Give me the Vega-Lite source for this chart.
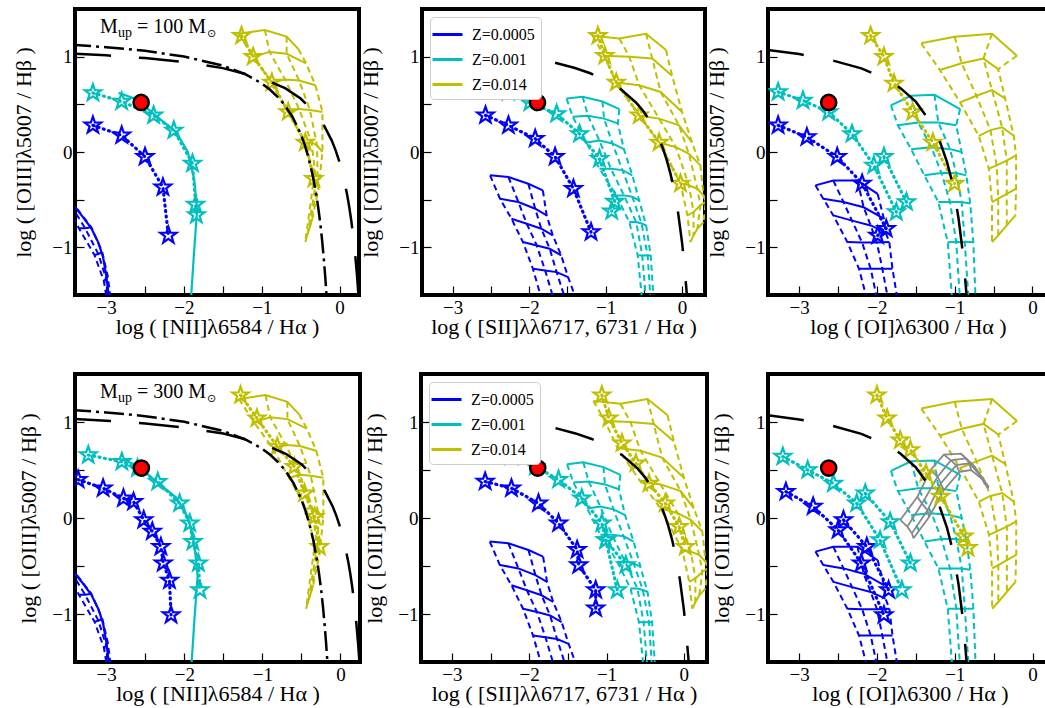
{
  "$schema": "https://vega.github.io/schema/vega-lite/v6.json",
  "background": "white",
  "padding": {"left": 10, "top": -2, "right": 0, "bottom": 0},
  "config": {
    "view": {"stroke": "black", "strokeWidth": 4},
    "axis": {"domain": false, "grid": false, "labelFont": "Liberation Serif", "labelFontSize": 19, "labelColor": "black", "titleFont": "Liberation Serif", "titleFontSize": 22, "titleFontWeight": "normal", "titleColor": "black", "tickColor": "black", "tickWidth": 1.2, "tickSize": -9, "labelPadding": 12, "labelFlush": false, "labelOverlap": false, "labelBound": false, "format": "d", "labelExpr": "datum.value % 1 === 0 ? datum.label : ''"},
    "axisX": {"titlePadding": -1, "values": [-3.4,-3.2,-3,-2.8,-2.6,-2.4,-2.2,-2,-1.8,-1.6,-1.4,-1.2,-1,-0.8,-0.6,-0.4,-0.2,0,0.2], "encode": {"ticks": {"update": {"y2": {"signal": "datum.value % 1 === 0 ? -9 : -5"}}}}},
    "axisY": {"titlePadding": 16, "values": [-1.4,-1.2,-1,-0.8,-0.6,-0.4,-0.2,0,0.2,0.4,0.6,0.8,1,1.2,1.4], "encode": {"ticks": {"update": {"x2": {"signal": "datum.value % 1 === 0 ? 9 : 5"}}}}},
    "point": {"shape": "M0,-1L0.235,-0.324L0.951,-0.309L0.38,0.124L0.588,0.809L0,0.4L-0.588,0.809L-0.38,0.124L-0.951,-0.309L-0.235,-0.324Z"},
    "legend": {"orient": "top-left", "title": null, "offset": 8, "symbolType": "M-1.5,0H1.5", "symbolSize": 400, "symbolStrokeWidth": 3, "labelFont": "Liberation Serif", "labelFontSize": 16, "labelColor": "black", "fillColor": "white", "strokeColor": "#cccccc", "cornerRadius": 4, "padding": 6, "rowPadding": 5, "labelOffset": 13}
  },
  "datasets": {
    "note": [{"r": 1, "s": "= 100 M"}, {"r": 2, "s": "= 300 M"}],
    "grid": [
      {"p":"N2","z":"Z=0.014","i":0,"j":0,"x":-1.30,"y":1.24},{"p":"N2","z":"Z=0.014","i":0,"j":1,"x":-0.96,"y":1.28},{"p":"N2","z":"Z=0.014","i":0,"j":2,"x":-0.68,"y":1.21},{"p":"N2","z":"Z=0.014","i":0,"j":3,"x":-0.53,"y":1.08},
      {"p":"N2","z":"Z=0.014","i":1,"j":0,"x":-1.11,"y":1.00},{"p":"N2","z":"Z=0.014","i":1,"j":1,"x":-0.90,"y":1.05},{"p":"N2","z":"Z=0.014","i":1,"j":2,"x":-0.68,"y":1.03},{"p":"N2","z":"Z=0.014","i":1,"j":3,"x":-0.43,"y":0.93},
      {"p":"N2","z":"Z=0.014","i":2,"j":0,"x":-0.87,"y":0.73},{"p":"N2","z":"Z=0.014","i":2,"j":1,"x":-0.70,"y":0.76},{"p":"N2","z":"Z=0.014","i":2,"j":2,"x":-0.52,"y":0.75},{"p":"N2","z":"Z=0.014","i":2,"j":3,"x":-0.31,"y":0.70},
      {"p":"N2","z":"Z=0.014","i":3,"j":0,"x":-0.66,"y":0.42},{"p":"N2","z":"Z=0.014","i":3,"j":1,"x":-0.52,"y":0.45},{"p":"N2","z":"Z=0.014","i":3,"j":2,"x":-0.38,"y":0.44},{"p":"N2","z":"Z=0.014","i":3,"j":3,"x":-0.22,"y":0.42},
      {"p":"N2","z":"Z=0.014","i":4,"j":0,"x":-0.44,"y":0.10},{"p":"N2","z":"Z=0.014","i":4,"j":1,"x":-0.36,"y":0.10},{"p":"N2","z":"Z=0.014","i":4,"j":2,"x":-0.29,"y":0.07},{"p":"N2","z":"Z=0.014","i":4,"j":3,"x":-0.22,"y":0.00},
      {"p":"N2","z":"Z=0.014","i":5,"j":0,"x":-0.33,"y":-0.28},{"p":"N2","z":"Z=0.014","i":5,"j":1,"x":-0.30,"y":-0.30},{"p":"N2","z":"Z=0.014","i":5,"j":2,"x":-0.28,"y":-0.33},{"p":"N2","z":"Z=0.014","i":5,"j":3,"x":-0.27,"y":-0.385},
      {"p":"N2","z":"Z=0.014","i":6,"j":0,"x":-0.44,"y":-0.945},{"p":"N2","z":"Z=0.014","i":6,"j":1,"x":-0.41,"y":-0.86},{"p":"N2","z":"Z=0.014","i":6,"j":2,"x":-0.38,"y":-0.78},{"p":"N2","z":"Z=0.014","i":6,"j":3,"x":-0.35,"y":-0.70},
      {"p":"N2","z":"Z=0.0005","i":0,"j":0,"x":-3.55,"y":-0.50},{"p":"N2","z":"Z=0.0005","i":0,"j":1,"x":-3.45,"y":-0.56},{"p":"N2","z":"Z=0.0005","i":0,"j":2,"x":-3.37,"y":-0.60},
      {"p":"N2","z":"Z=0.0005","i":1,"j":0,"x":-3.35,"y":-0.80},{"p":"N2","z":"Z=0.0005","i":1,"j":1,"x":-3.27,"y":-0.80},{"p":"N2","z":"Z=0.0005","i":1,"j":2,"x":-3.19,"y":-0.79},
      {"p":"N2","z":"Z=0.0005","i":2,"j":0,"x":-3.15,"y":-1.08},{"p":"N2","z":"Z=0.0005","i":2,"j":1,"x":-3.10,"y":-1.07},{"p":"N2","z":"Z=0.0005","i":2,"j":2,"x":-3.05,"y":-1.05},
      {"p":"N2","z":"Z=0.0005","i":3,"j":0,"x":-3.03,"y":-1.35},{"p":"N2","z":"Z=0.0005","i":3,"j":1,"x":-3.00,"y":-1.33},{"p":"N2","z":"Z=0.0005","i":3,"j":2,"x":-2.98,"y":-1.30},
      {"p":"N2","z":"Z=0.0005","i":4,"j":0,"x":-2.98,"y":-1.60},{"p":"N2","z":"Z=0.0005","i":4,"j":1,"x":-2.96,"y":-1.58},{"p":"N2","z":"Z=0.0005","i":4,"j":2,"x":-2.94,"y":-1.55},
      {"p":"S2","z":"Z=0.0005","i":0,"j":0,"x":-2.51,"y":-0.245},{"p":"S2","z":"Z=0.0005","i":0,"j":1,"x":-2.27,"y":-0.263},{"p":"S2","z":"Z=0.0005","i":0,"j":2,"x":-2.01,"y":-0.333},{"p":"S2","z":"Z=0.0005","i":0,"j":3,"x":-1.82,"y":-0.403},
      {"p":"S2","z":"Z=0.0005","i":1,"j":0,"x":-2.38,"y":-0.49},{"p":"S2","z":"Z=0.0005","i":1,"j":1,"x":-2.14,"y":-0.525},{"p":"S2","z":"Z=0.0005","i":1,"j":2,"x":-1.92,"y":-0.595},{"p":"S2","z":"Z=0.0005","i":1,"j":3,"x":-1.77,"y":-0.665},
      {"p":"S2","z":"Z=0.0005","i":2,"j":0,"x":-2.23,"y":-0.70},{"p":"S2","z":"Z=0.0005","i":2,"j":1,"x":-2.03,"y":-0.753},{"p":"S2","z":"Z=0.0005","i":2,"j":2,"x":-1.84,"y":-0.805},{"p":"S2","z":"Z=0.0005","i":2,"j":3,"x":-1.69,"y":-0.875},
      {"p":"S2","z":"Z=0.0005","i":3,"j":0,"x":-2.08,"y":-0.945},{"p":"S2","z":"Z=0.0005","i":3,"j":1,"x":-1.90,"y":-0.98},{"p":"S2","z":"Z=0.0005","i":3,"j":2,"x":-1.73,"y":-1.015},{"p":"S2","z":"Z=0.0005","i":3,"j":3,"x":-1.58,"y":-1.085},
      {"p":"S2","z":"Z=0.0005","i":4,"j":0,"x":-1.95,"y":-1.225},{"p":"S2","z":"Z=0.0005","i":4,"j":1,"x":-1.79,"y":-1.242},{"p":"S2","z":"Z=0.0005","i":4,"j":2,"x":-1.64,"y":-1.26},{"p":"S2","z":"Z=0.0005","i":4,"j":3,"x":-1.49,"y":-1.312},
      {"p":"S2","z":"Z=0.0005","i":5,"j":0,"x":-1.78,"y":-1.70},{"p":"S2","z":"Z=0.0005","i":5,"j":1,"x":-1.62,"y":-1.70},{"p":"S2","z":"Z=0.0005","i":5,"j":2,"x":-1.48,"y":-1.66},{"p":"S2","z":"Z=0.0005","i":5,"j":3,"x":-1.36,"y":-1.60},
      {"p":"S2","z":"Z=0.001","i":0,"j":0,"x":-1.51,"y":0.56},{"p":"S2","z":"Z=0.001","i":0,"j":1,"x":-1.30,"y":0.58},{"p":"S2","z":"Z=0.001","i":0,"j":2,"x":-1.04,"y":0.53},{"p":"S2","z":"Z=0.001","i":0,"j":3,"x":-0.82,"y":0.45},
      {"p":"S2","z":"Z=0.001","i":1,"j":0,"x":-1.43,"y":0.37},{"p":"S2","z":"Z=0.001","i":1,"j":1,"x":-1.23,"y":0.38},{"p":"S2","z":"Z=0.001","i":1,"j":2,"x":-1.02,"y":0.35},{"p":"S2","z":"Z=0.001","i":1,"j":3,"x":-0.84,"y":0.30},
      {"p":"S2","z":"Z=0.001","i":2,"j":0,"x":-1.25,"y":0.10},{"p":"S2","z":"Z=0.001","i":2,"j":1,"x":-1.08,"y":0.12},{"p":"S2","z":"Z=0.001","i":2,"j":2,"x":-0.91,"y":0.09},{"p":"S2","z":"Z=0.001","i":2,"j":3,"x":-0.76,"y":0.03},
      {"p":"S2","z":"Z=0.001","i":3,"j":0,"x":-1.08,"y":-0.175},{"p":"S2","z":"Z=0.001","i":3,"j":1,"x":-0.93,"y":-0.175},{"p":"S2","z":"Z=0.001","i":3,"j":2,"x":-0.78,"y":-0.19},{"p":"S2","z":"Z=0.001","i":3,"j":3,"x":-0.65,"y":-0.245},
      {"p":"S2","z":"Z=0.001","i":4,"j":0,"x":-0.86,"y":-0.455},{"p":"S2","z":"Z=0.001","i":4,"j":1,"x":-0.76,"y":-0.455},{"p":"S2","z":"Z=0.001","i":4,"j":2,"x":-0.65,"y":-0.47},{"p":"S2","z":"Z=0.001","i":4,"j":3,"x":-0.56,"y":-0.51},
      {"p":"S2","z":"Z=0.001","i":5,"j":0,"x":-0.69,"y":-0.735},{"p":"S2","z":"Z=0.001","i":5,"j":1,"x":-0.60,"y":-0.735},{"p":"S2","z":"Z=0.001","i":5,"j":2,"x":-0.53,"y":-0.75},{"p":"S2","z":"Z=0.001","i":5,"j":3,"x":-0.47,"y":-0.77},
      {"p":"S2","z":"Z=0.001","i":6,"j":0,"x":-0.58,"y":-1.085},{"p":"S2","z":"Z=0.001","i":6,"j":1,"x":-0.52,"y":-1.085},{"p":"S2","z":"Z=0.001","i":6,"j":2,"x":-0.45,"y":-1.085},{"p":"S2","z":"Z=0.001","i":6,"j":3,"x":-0.41,"y":-1.085},
      {"p":"S2","z":"Z=0.001","i":7,"j":0,"x":-0.52,"y":-1.57},{"p":"S2","z":"Z=0.001","i":7,"j":1,"x":-0.47,"y":-1.57},{"p":"S2","z":"Z=0.001","i":7,"j":2,"x":-0.41,"y":-1.57},{"p":"S2","z":"Z=0.001","i":7,"j":3,"x":-0.37,"y":-1.57},
      {"p":"S2","z":"Z=0.014","i":0,"j":0,"x":-1.17,"y":1.22},{"p":"S2","z":"Z=0.014","i":0,"j":1,"x":-0.82,"y":1.19},{"p":"S2","z":"Z=0.014","i":0,"j":2,"x":-0.47,"y":1.24},{"p":"S2","z":"Z=0.014","i":0,"j":3,"x":-0.21,"y":1.07},
      {"p":"S2","z":"Z=0.014","i":1,"j":0,"x":-1.02,"y":1.01},{"p":"S2","z":"Z=0.014","i":1,"j":1,"x":-0.69,"y":1.00},{"p":"S2","z":"Z=0.014","i":1,"j":2,"x":-0.39,"y":0.98},{"p":"S2","z":"Z=0.014","i":1,"j":3,"x":-0.13,"y":0.80},
      {"p":"S2","z":"Z=0.014","i":2,"j":0,"x":-0.86,"y":0.73},{"p":"S2","z":"Z=0.014","i":2,"j":1,"x":-0.56,"y":0.70},{"p":"S2","z":"Z=0.014","i":2,"j":2,"x":-0.28,"y":0.63},{"p":"S2","z":"Z=0.014","i":2,"j":3,"x":0.00,"y":0.42},
      {"p":"S2","z":"Z=0.014","i":3,"j":0,"x":-0.56,"y":0.38},{"p":"S2","z":"Z=0.014","i":3,"j":1,"x":-0.30,"y":0.35},{"p":"S2","z":"Z=0.014","i":3,"j":2,"x":-0.04,"y":0.28},{"p":"S2","z":"Z=0.014","i":3,"j":3,"x":0.13,"y":0.10},
      {"p":"S2","z":"Z=0.014","i":4,"j":0,"x":-0.30,"y":0.10},{"p":"S2","z":"Z=0.014","i":4,"j":1,"x":-0.08,"y":0.05},{"p":"S2","z":"Z=0.014","i":4,"j":2,"x":0.09,"y":-0.02},{"p":"S2","z":"Z=0.014","i":4,"j":3,"x":0.24,"y":-0.14},
      {"p":"S2","z":"Z=0.014","i":5,"j":0,"x":-0.02,"y":-0.33},{"p":"S2","z":"Z=0.014","i":5,"j":1,"x":0.09,"y":-0.35},{"p":"S2","z":"Z=0.014","i":5,"j":2,"x":0.20,"y":-0.385},{"p":"S2","z":"Z=0.014","i":5,"j":3,"x":0.28,"y":-0.455},
      {"p":"S2","z":"Z=0.014","i":6,"j":0,"x":0.07,"y":-0.665},{"p":"S2","z":"Z=0.014","i":6,"j":1,"x":0.15,"y":-0.63},{"p":"S2","z":"Z=0.014","i":6,"j":2,"x":0.24,"y":-0.56},{"p":"S2","z":"Z=0.014","i":6,"j":3,"x":0.31,"y":-0.525},
      {"p":"S2","z":"Z=0.014","i":7,"j":0,"x":0.11,"y":-0.945},{"p":"S2","z":"Z=0.014","i":7,"j":1,"x":0.15,"y":-0.875},{"p":"S2","z":"Z=0.014","i":7,"j":2,"x":0.20,"y":-0.805},{"p":"S2","z":"Z=0.014","i":7,"j":3,"x":0.28,"y":-0.735},
      {"p":"O1","z":"Z=0.0005","i":0,"j":0,"x":-2.79,"y":-0.35},{"p":"O1","z":"Z=0.0005","i":0,"j":1,"x":-2.56,"y":-0.30},{"p":"O1","z":"Z=0.0005","i":0,"j":2,"x":-2.25,"y":-0.30},{"p":"O1","z":"Z=0.0005","i":0,"j":3,"x":-1.99,"y":-0.44},
      {"p":"O1","z":"Z=0.0005","i":1,"j":0,"x":-2.69,"y":-0.49},{"p":"O1","z":"Z=0.0005","i":1,"j":1,"x":-2.43,"y":-0.525},{"p":"O1","z":"Z=0.0005","i":1,"j":2,"x":-2.17,"y":-0.58},{"p":"O1","z":"Z=0.0005","i":1,"j":3,"x":-1.91,"y":-0.70},
      {"p":"O1","z":"Z=0.0005","i":2,"j":0,"x":-2.56,"y":-0.665},{"p":"O1","z":"Z=0.0005","i":2,"j":1,"x":-2.32,"y":-0.72},{"p":"O1","z":"Z=0.0005","i":2,"j":2,"x":-2.08,"y":-0.77},{"p":"O1","z":"Z=0.0005","i":2,"j":3,"x":-1.89,"y":-0.84},
      {"p":"O1","z":"Z=0.0005","i":3,"j":0,"x":-2.38,"y":-0.945},{"p":"O1","z":"Z=0.0005","i":3,"j":1,"x":-2.19,"y":-0.95},{"p":"O1","z":"Z=0.0005","i":3,"j":2,"x":-2.00,"y":-0.95},{"p":"O1","z":"Z=0.0005","i":3,"j":3,"x":-1.84,"y":-0.945},
      {"p":"O1","z":"Z=0.0005","i":4,"j":0,"x":-2.23,"y":-1.225},{"p":"O1","z":"Z=0.0005","i":4,"j":1,"x":-2.08,"y":-1.225},{"p":"O1","z":"Z=0.0005","i":4,"j":2,"x":-1.93,"y":-1.225},{"p":"O1","z":"Z=0.0005","i":4,"j":3,"x":-1.80,"y":-1.225},
      {"p":"O1","z":"Z=0.0005","i":5,"j":0,"x":-2.12,"y":-1.57},{"p":"O1","z":"Z=0.0005","i":5,"j":1,"x":-1.99,"y":-1.57},{"p":"O1","z":"Z=0.0005","i":5,"j":2,"x":-1.85,"y":-1.57},{"p":"O1","z":"Z=0.0005","i":5,"j":3,"x":-1.73,"y":-1.57},
      {"p":"O1","z":"Z=0.001","i":0,"j":0,"x":-1.82,"y":0.49},{"p":"O1","z":"Z=0.001","i":0,"j":1,"x":-1.56,"y":0.59},{"p":"O1","z":"Z=0.001","i":0,"j":2,"x":-1.26,"y":0.60},{"p":"O1","z":"Z=0.001","i":0,"j":3,"x":-0.93,"y":0.45},
      {"p":"O1","z":"Z=0.001","i":1,"j":0,"x":-1.73,"y":0.28},{"p":"O1","z":"Z=0.001","i":1,"j":1,"x":-1.47,"y":0.31},{"p":"O1","z":"Z=0.001","i":1,"j":2,"x":-1.21,"y":0.31},{"p":"O1","z":"Z=0.001","i":1,"j":3,"x":-0.98,"y":0.28},
      {"p":"O1","z":"Z=0.001","i":2,"j":0,"x":-1.56,"y":0.03},{"p":"O1","z":"Z=0.001","i":2,"j":1,"x":-1.30,"y":0.05},{"p":"O1","z":"Z=0.001","i":2,"j":2,"x":-1.06,"y":0.03},{"p":"O1","z":"Z=0.001","i":2,"j":3,"x":-0.91,"y":0.00},
      {"p":"O1","z":"Z=0.001","i":3,"j":0,"x":-1.39,"y":-0.245},{"p":"O1","z":"Z=0.001","i":3,"j":1,"x":-1.17,"y":-0.22},{"p":"O1","z":"Z=0.001","i":3,"j":2,"x":-0.98,"y":-0.22},{"p":"O1","z":"Z=0.001","i":3,"j":3,"x":-0.85,"y":-0.245},
      {"p":"O1","z":"Z=0.001","i":4,"j":0,"x":-1.21,"y":-0.525},{"p":"O1","z":"Z=0.001","i":4,"j":1,"x":-1.06,"y":-0.525},{"p":"O1","z":"Z=0.001","i":4,"j":2,"x":-0.91,"y":-0.525},{"p":"O1","z":"Z=0.001","i":4,"j":3,"x":-0.80,"y":-0.54},
      {"p":"O1","z":"Z=0.001","i":5,"j":0,"x":-1.09,"y":-0.945},{"p":"O1","z":"Z=0.001","i":5,"j":1,"x":-0.98,"y":-0.945},{"p":"O1","z":"Z=0.001","i":5,"j":2,"x":-0.87,"y":-0.945},{"p":"O1","z":"Z=0.001","i":5,"j":3,"x":-0.76,"y":-0.945},
      {"p":"O1","z":"Z=0.001","i":6,"j":0,"x":-1.03,"y":-1.57},{"p":"O1","z":"Z=0.001","i":6,"j":1,"x":-0.93,"y":-1.57},{"p":"O1","z":"Z=0.001","i":6,"j":2,"x":-0.82,"y":-1.57},{"p":"O1","z":"Z=0.001","i":6,"j":3,"x":-0.73,"y":-1.57},
      {"p":"O1","z":"Z=0.014","i":0,"j":0,"x":-1.43,"y":1.14},{"p":"O1","z":"Z=0.014","i":0,"j":1,"x":-1.00,"y":1.21},{"p":"O1","z":"Z=0.014","i":0,"j":2,"x":-0.52,"y":1.24},{"p":"O1","z":"Z=0.014","i":0,"j":3,"x":-0.20,"y":1.01},
      {"p":"O1","z":"Z=0.014","i":1,"j":0,"x":-1.19,"y":0.86},{"p":"O1","z":"Z=0.014","i":1,"j":1,"x":-0.91,"y":0.93},{"p":"O1","z":"Z=0.014","i":1,"j":2,"x":-0.63,"y":0.98},{"p":"O1","z":"Z=0.014","i":1,"j":3,"x":-0.44,"y":0.87},
      {"p":"O1","z":"Z=0.014","i":2,"j":0,"x":-0.93,"y":0.52},{"p":"O1","z":"Z=0.014","i":2,"j":1,"x":-0.72,"y":0.59},{"p":"O1","z":"Z=0.014","i":2,"j":2,"x":-0.52,"y":0.65},{"p":"O1","z":"Z=0.014","i":2,"j":3,"x":-0.35,"y":0.56},
      {"p":"O1","z":"Z=0.014","i":3,"j":0,"x":-0.69,"y":0.17},{"p":"O1","z":"Z=0.014","i":3,"j":1,"x":-0.54,"y":0.23},{"p":"O1","z":"Z=0.014","i":3,"j":2,"x":-0.39,"y":0.26},{"p":"O1","z":"Z=0.014","i":3,"j":3,"x":-0.24,"y":0.17},
      {"p":"O1","z":"Z=0.014","i":4,"j":0,"x":-0.56,"y":-0.175},{"p":"O1","z":"Z=0.014","i":4,"j":1,"x":-0.46,"y":-0.14},{"p":"O1","z":"Z=0.014","i":4,"j":2,"x":-0.33,"y":-0.09},{"p":"O1","z":"Z=0.014","i":4,"j":3,"x":-0.21,"y":-0.035},
      {"p":"O1","z":"Z=0.014","i":5,"j":0,"x":-0.52,"y":-0.525},{"p":"O1","z":"Z=0.014","i":5,"j":1,"x":-0.44,"y":-0.49},{"p":"O1","z":"Z=0.014","i":5,"j":2,"x":-0.33,"y":-0.44},{"p":"O1","z":"Z=0.014","i":5,"j":3,"x":-0.21,"y":-0.385},
      {"p":"O1","z":"Z=0.014","i":6,"j":0,"x":-0.52,"y":-0.945},{"p":"O1","z":"Z=0.014","i":6,"j":1,"x":-0.44,"y":-0.875},{"p":"O1","z":"Z=0.014","i":6,"j":2,"x":-0.33,"y":-0.77},{"p":"O1","z":"Z=0.014","i":6,"j":3,"x":-0.22,"y":-0.665}
    ],
    "gray": [
      {"i":0,"j":0,"x":-1.70,"y":-0.02},{"i":0,"j":1,"x":-1.61,"y":-0.09},{"i":0,"j":2,"x":-1.55,"y":-0.16},{"i":0,"j":3,"x":-1.53,"y":-0.21},
      {"i":1,"j":0,"x":-1.48,"y":0.22},{"i":1,"j":1,"x":-1.42,"y":0.15},{"i":1,"j":2,"x":-1.35,"y":0.08},{"i":1,"j":3,"x":-1.33,"y":0.01},
      {"i":2,"j":0,"x":-1.31,"y":0.50},{"i":2,"j":1,"x":-1.22,"y":0.43},{"i":2,"j":2,"x":-1.18,"y":0.36},{"i":2,"j":3,"x":-1.14,"y":0.29},
      {"i":3,"j":0,"x":-1.14,"y":0.66},{"i":3,"j":1,"x":-1.05,"y":0.60},{"i":3,"j":2,"x":-0.98,"y":0.55},{"i":3,"j":3,"x":-0.94,"y":0.48},
      {"i":4,"j":0,"x":-0.92,"y":0.67},{"i":4,"j":1,"x":-0.855,"y":0.62},{"i":4,"j":2,"x":-0.81,"y":0.57},{"i":4,"j":3,"x":-0.79,"y":0.50},
      {"i":5,"j":0,"x":-0.75,"y":0.54},{"i":5,"j":1,"x":-0.70,"y":0.48},{"i":5,"j":2,"x":-0.66,"y":0.43},{"i":5,"j":3,"x":-0.64,"y":0.40},
      {"i":6,"j":0,"x":-0.57,"y":0.31},{"i":6,"j":1,"x":-0.57,"y":0.33},{"i":6,"j":2,"x":-0.595,"y":0.34},{"i":6,"j":3,"x":-0.62,"y":0.36}
    ],
    "curve": [
      {"p":"N2","z":"Z=0.001","c":0,"k":0,"x":-2.84,"y":0.62},{"p":"N2","z":"Z=0.001","c":0,"k":1,"x":-2.60,"y":0.55},{"p":"N2","z":"Z=0.001","c":0,"k":2,"x":-2.39,"y":0.40},{"p":"N2","z":"Z=0.001","c":0,"k":3,"x":-2.10,"y":0.21},{"p":"N2","z":"Z=0.001","c":0,"k":4,"x":-1.95,"y":0.0},{"p":"N2","z":"Z=0.001","c":0,"k":5,"x":-1.87,"y":-0.28},{"p":"N2","z":"Z=0.001","c":0,"k":6,"x":-1.83,"y":-0.60},{"p":"N2","z":"Z=0.001","c":0,"k":7,"x":-1.87,"y":-1.05},{"p":"N2","z":"Z=0.001","c":0,"k":8,"x":-1.91,"y":-1.55},
      {"p":"N2","z":"Z=0.0005","c":1,"k":0,"x":-3.40,"y":-0.58},{"p":"N2","z":"Z=0.0005","c":1,"k":1,"x":-3.30,"y":-0.68},{"p":"N2","z":"Z=0.0005","c":1,"k":2,"x":-3.19,"y":-0.80},{"p":"N2","z":"Z=0.0005","c":1,"k":3,"x":-3.10,"y":-0.95},{"p":"N2","z":"Z=0.0005","c":1,"k":4,"x":-3.04,"y":-1.10},{"p":"N2","z":"Z=0.0005","c":1,"k":5,"x":-3.00,"y":-1.29},{"p":"N2","z":"Z=0.0005","c":1,"k":6,"x":-2.96,"y":-1.55}
    ],
    "track": [
      {"r":1,"p":"N2","z":"Z=0.0005","t":"a","k":0,"x":-3.17,"y":0.28},{"r":1,"p":"N2","z":"Z=0.0005","t":"a","k":1,"x":-2.80,"y":0.175},{"r":1,"p":"N2","z":"Z=0.0005","t":"a","k":2,"x":-2.50,"y":-0.05},{"r":1,"p":"N2","z":"Z=0.0005","t":"a","k":3,"x":-2.27,"y":-0.37},{"r":1,"p":"N2","z":"Z=0.0005","t":"a","k":4,"x":-2.20,"y":-0.875},
      {"r":1,"p":"N2","z":"Z=0.001","t":"a","k":0,"x":-3.17,"y":0.62},{"r":1,"p":"N2","z":"Z=0.001","t":"a","k":1,"x":-2.80,"y":0.53},{"r":1,"p":"N2","z":"Z=0.001","t":"a","k":2,"x":-2.39,"y":0.385},{"r":1,"p":"N2","z":"Z=0.001","t":"a","k":3,"x":-2.13,"y":0.227},{"r":1,"p":"N2","z":"Z=0.001","t":"a","k":4,"x":-1.89,"y":-0.12},{"r":1,"p":"N2","z":"Z=0.001","t":"a","k":5,"x":-1.85,"y":-0.55},{"r":1,"p":"N2","z":"Z=0.001","t":"a","k":6,"x":-1.84,"y":-0.66},
      {"r":1,"p":"N2","z":"Z=0.014","t":"a","k":0,"x":-1.26,"y":1.22},{"r":1,"p":"N2","z":"Z=0.014","t":"a","k":1,"x":-1.11,"y":1.0},{"r":1,"p":"N2","z":"Z=0.014","t":"a","k":2,"x":-0.87,"y":0.73},{"r":1,"p":"N2","z":"Z=0.014","t":"a","k":3,"x":-0.66,"y":0.42},{"r":1,"p":"N2","z":"Z=0.014","t":"a","k":4,"x":-0.44,"y":0.10},{"r":1,"p":"N2","z":"Z=0.014","t":"a","k":5,"x":-0.33,"y":-0.28},
      {"r":1,"p":"S2","z":"Z=0.0005","t":"a","k":0,"x":-2.57,"y":0.385},{"r":1,"p":"S2","z":"Z=0.0005","t":"a","k":1,"x":-2.27,"y":0.28},{"r":1,"p":"S2","z":"Z=0.0005","t":"a","k":2,"x":-1.92,"y":0.14},{"r":1,"p":"S2","z":"Z=0.0005","t":"a","k":3,"x":-1.66,"y":-0.05},{"r":1,"p":"S2","z":"Z=0.0005","t":"a","k":4,"x":-1.42,"y":-0.385},{"r":1,"p":"S2","z":"Z=0.0005","t":"a","k":5,"x":-1.19,"y":-0.84},
      {"r":1,"p":"S2","z":"Z=0.001","t":"a","k":0,"x":-2.27,"y":0.63},{"r":1,"p":"S2","z":"Z=0.001","t":"a","k":1,"x":-1.99,"y":0.52},{"r":1,"p":"S2","z":"Z=0.001","t":"a","k":2,"x":-1.64,"y":0.40},{"r":1,"p":"S2","z":"Z=0.001","t":"a","k":3,"x":-1.34,"y":0.19},{"r":1,"p":"S2","z":"Z=0.001","t":"a","k":4,"x":-1.08,"y":-0.07},{"r":1,"p":"S2","z":"Z=0.001","t":"a","k":5,"x":-0.88,"y":-0.52},{"r":1,"p":"S2","z":"Z=0.001","t":"a","k":6,"x":-0.92,"y":-0.62},
      {"r":1,"p":"S2","z":"Z=0.014","t":"a","k":0,"x":-1.10,"y":1.22},{"r":1,"p":"S2","z":"Z=0.014","t":"a","k":1,"x":-1.01,"y":1.01},{"r":1,"p":"S2","z":"Z=0.014","t":"a","k":2,"x":-0.86,"y":0.73},{"r":1,"p":"S2","z":"Z=0.014","t":"a","k":3,"x":-0.56,"y":0.385},{"r":1,"p":"S2","z":"Z=0.014","t":"a","k":4,"x":-0.30,"y":0.10},{"r":1,"p":"S2","z":"Z=0.014","t":"a","k":5,"x":-0.02,"y":-0.33},
      {"r":1,"p":"O1","z":"Z=0.0005","t":"a","k":0,"x":-3.27,"y":0.28},{"r":1,"p":"O1","z":"Z=0.0005","t":"a","k":1,"x":-2.90,"y":0.157},{"r":1,"p":"O1","z":"Z=0.0005","t":"a","k":2,"x":-2.51,"y":-0.05},{"r":1,"p":"O1","z":"Z=0.0005","t":"a","k":3,"x":-2.19,"y":-0.33},{"r":1,"p":"O1","z":"Z=0.0005","t":"a","k":4,"x":-1.88,"y":-0.805},{"r":1,"p":"O1","z":"Z=0.0005","t":"a","k":5,"x":-1.99,"y":-0.875},
      {"r":1,"p":"O1","z":"Z=0.001","t":"a","k":0,"x":-3.27,"y":0.63},{"r":1,"p":"O1","z":"Z=0.001","t":"a","k":1,"x":-2.95,"y":0.54},{"r":1,"p":"O1","z":"Z=0.001","t":"a","k":2,"x":-2.62,"y":0.42},{"r":1,"p":"O1","z":"Z=0.001","t":"a","k":3,"x":-2.32,"y":0.19},{"r":1,"p":"O1","z":"Z=0.001","t":"a","k":4,"x":-2.04,"y":-0.14},{"r":1,"p":"O1","z":"Z=0.001","t":"a","k":5,"x":-1.75,"y":-0.63},
      {"r":1,"p":"O1","z":"Z=0.001","t":"b","k":0,"x":-1.91,"y":-0.05},{"r":1,"p":"O1","z":"Z=0.001","t":"b","k":1,"x":-1.62,"y":-0.525},
      {"r":1,"p":"O1","z":"Z=0.014","t":"a","k":0,"x":-2.08,"y":1.22},{"r":1,"p":"O1","z":"Z=0.014","t":"a","k":1,"x":-1.91,"y":1.0},{"r":1,"p":"O1","z":"Z=0.014","t":"a","k":2,"x":-1.78,"y":0.72},{"r":1,"p":"O1","z":"Z=0.014","t":"a","k":3,"x":-1.54,"y":0.42},{"r":1,"p":"O1","z":"Z=0.014","t":"a","k":4,"x":-1.28,"y":0.10},{"r":1,"p":"O1","z":"Z=0.014","t":"a","k":5,"x":-1.0,"y":-0.33},
      {"r":2,"p":"N2","z":"Z=0.0005","t":"a","k":0,"x":-3.36,"y":0.40},{"r":2,"p":"N2","z":"Z=0.0005","t":"a","k":1,"x":-3.04,"y":0.31},{"r":2,"p":"N2","z":"Z=0.0005","t":"a","k":2,"x":-2.78,"y":0.205},{"r":2,"p":"N2","z":"Z=0.0005","t":"a","k":3,"x":-2.65,"y":0.17},{"r":2,"p":"N2","z":"Z=0.0005","t":"a","k":4,"x":-2.52,"y":-0.02},{"r":2,"p":"N2","z":"Z=0.0005","t":"a","k":5,"x":-2.41,"y":-0.14},{"r":2,"p":"N2","z":"Z=0.0005","t":"a","k":6,"x":-2.30,"y":-0.30},{"r":2,"p":"N2","z":"Z=0.0005","t":"a","k":7,"x":-2.27,"y":-0.47},{"r":2,"p":"N2","z":"Z=0.0005","t":"a","k":8,"x":-2.19,"y":-0.65},{"r":2,"p":"N2","z":"Z=0.0005","t":"a","k":9,"x":-2.17,"y":-1.01},
      {"r":2,"p":"N2","z":"Z=0.001","t":"a","k":0,"x":-3.23,"y":0.656},{"r":2,"p":"N2","z":"Z=0.001","t":"a","k":1,"x":-2.80,"y":0.586},{"r":2,"p":"N2","z":"Z=0.001","t":"a","k":2,"x":-2.60,"y":0.517},{"r":2,"p":"N2","z":"Z=0.001","t":"a","k":3,"x":-2.34,"y":0.378},{"r":2,"p":"N2","z":"Z=0.001","t":"a","k":4,"x":-2.06,"y":0.153},{"r":2,"p":"N2","z":"Z=0.001","t":"a","k":5,"x":-1.93,"y":-0.055},{"r":2,"p":"N2","z":"Z=0.001","t":"a","k":6,"x":-1.89,"y":-0.247},{"r":2,"p":"N2","z":"Z=0.001","t":"a","k":7,"x":-1.82,"y":-0.47},{"r":2,"p":"N2","z":"Z=0.001","t":"a","k":8,"x":-1.80,"y":-0.75},
      {"r":2,"p":"N2","z":"Z=0.014","t":"a","k":0,"x":-1.28,"y":1.28},{"r":2,"p":"N2","z":"Z=0.014","t":"a","k":1,"x":-1.07,"y":1.04},{"r":2,"p":"N2","z":"Z=0.014","t":"a","k":2,"x":-0.81,"y":0.745},{"r":2,"p":"N2","z":"Z=0.014","t":"a","k":3,"x":-0.59,"y":0.535},{"r":2,"p":"N2","z":"Z=0.014","t":"a","k":4,"x":-0.46,"y":0.257},{"r":2,"p":"N2","z":"Z=0.014","t":"a","k":5,"x":-0.33,"y":0.014},{"r":2,"p":"N2","z":"Z=0.014","t":"a","k":6,"x":-0.27,"y":-0.30},
      {"r":2,"p":"S2","z":"Z=0.0005","t":"a","k":0,"x":-2.57,"y":0.38},{"r":2,"p":"S2","z":"Z=0.0005","t":"a","k":1,"x":-2.23,"y":0.31},{"r":2,"p":"S2","z":"Z=0.0005","t":"a","k":2,"x":-1.88,"y":0.153},{"r":2,"p":"S2","z":"Z=0.0005","t":"a","k":3,"x":-1.62,"y":-0.055},{"r":2,"p":"S2","z":"Z=0.0005","t":"a","k":4,"x":-1.38,"y":-0.33},{"r":2,"p":"S2","z":"Z=0.0005","t":"a","k":5,"x":-1.36,"y":-0.49},{"r":2,"p":"S2","z":"Z=0.0005","t":"a","k":6,"x":-1.14,"y":-0.75},{"r":2,"p":"S2","z":"Z=0.0005","t":"a","k":7,"x":-1.14,"y":-0.94},
      {"r":2,"p":"S2","z":"Z=0.001","t":"a","k":0,"x":-2.23,"y":0.64},{"r":2,"p":"S2","z":"Z=0.001","t":"a","k":1,"x":-1.92,"y":0.535},{"r":2,"p":"S2","z":"Z=0.001","t":"a","k":2,"x":-1.62,"y":0.40},{"r":2,"p":"S2","z":"Z=0.001","t":"a","k":3,"x":-1.32,"y":0.205},{"r":2,"p":"S2","z":"Z=0.001","t":"a","k":4,"x":-1.06,"y":-0.055},{"r":2,"p":"S2","z":"Z=0.001","t":"a","k":5,"x":-1.01,"y":-0.23},{"r":2,"p":"S2","z":"Z=0.001","t":"a","k":6,"x":-0.86,"y":-0.75},
      {"r":2,"p":"S2","z":"Z=0.001","t":"b","k":0,"x":-1.01,"y":-0.23},{"r":2,"p":"S2","z":"Z=0.001","t":"b","k":1,"x":-0.75,"y":-0.49},
      {"r":2,"p":"S2","z":"Z=0.014","t":"a","k":0,"x":-1.06,"y":1.28},{"r":2,"p":"S2","z":"Z=0.014","t":"a","k":1,"x":-0.97,"y":1.04},{"r":2,"p":"S2","z":"Z=0.014","t":"a","k":2,"x":-0.80,"y":0.78},{"r":2,"p":"S2","z":"Z=0.014","t":"a","k":3,"x":-0.62,"y":0.57},{"r":2,"p":"S2","z":"Z=0.014","t":"a","k":4,"x":-0.45,"y":0.36},{"r":2,"p":"S2","z":"Z=0.014","t":"a","k":5,"x":-0.24,"y":0.153},{"r":2,"p":"S2","z":"Z=0.014","t":"a","k":6,"x":-0.06,"y":-0.09},{"r":2,"p":"S2","z":"Z=0.014","t":"a","k":7,"x":0.02,"y":-0.30},
      {"r":2,"p":"O1","z":"Z=0.0005","t":"a","k":0,"x":-3.17,"y":0.274},{"r":2,"p":"O1","z":"Z=0.0005","t":"a","k":1,"x":-2.82,"y":0.12},{"r":2,"p":"O1","z":"Z=0.0005","t":"a","k":2,"x":-2.50,"y":-0.125},{"r":2,"p":"O1","z":"Z=0.0005","t":"a","k":3,"x":-2.20,"y":-0.47},{"r":2,"p":"O1","z":"Z=0.0005","t":"a","k":4,"x":-1.91,"y":-1.01},
      {"r":2,"p":"O1","z":"Z=0.0005","t":"b","k":0,"x":-2.43,"y":-0.02},{"r":2,"p":"O1","z":"Z=0.0005","t":"b","k":1,"x":-2.13,"y":-0.30},{"r":2,"p":"O1","z":"Z=0.0005","t":"b","k":2,"x":-1.85,"y":-0.75},
      {"r":2,"p":"O1","z":"Z=0.001","t":"a","k":0,"x":-3.21,"y":0.64},{"r":2,"p":"O1","z":"Z=0.001","t":"a","k":1,"x":-2.89,"y":0.50},{"r":2,"p":"O1","z":"Z=0.001","t":"a","k":2,"x":-2.56,"y":0.36},{"r":2,"p":"O1","z":"Z=0.001","t":"a","k":3,"x":-2.26,"y":0.153},{"r":2,"p":"O1","z":"Z=0.001","t":"a","k":4,"x":-1.96,"y":-0.23},{"r":2,"p":"O1","z":"Z=0.001","t":"a","k":5,"x":-1.68,"y":-0.75},
      {"r":2,"p":"O1","z":"Z=0.001","t":"b","k":0,"x":-2.15,"y":0.257},{"r":2,"p":"O1","z":"Z=0.001","t":"b","k":1,"x":-1.83,"y":-0.04},{"r":2,"p":"O1","z":"Z=0.001","t":"b","k":2,"x":-1.57,"y":-0.47},
      {"r":2,"p":"O1","z":"Z=0.014","t":"a","k":0,"x":-2.0,"y":1.28},{"r":2,"p":"O1","z":"Z=0.014","t":"a","k":1,"x":-1.87,"y":1.04},{"r":2,"p":"O1","z":"Z=0.014","t":"a","k":2,"x":-1.70,"y":0.81},{"r":2,"p":"O1","z":"Z=0.014","t":"a","k":3,"x":-1.57,"y":0.71},{"r":2,"p":"O1","z":"Z=0.014","t":"a","k":4,"x":-1.37,"y":0.466},{"r":2,"p":"O1","z":"Z=0.014","t":"a","k":5,"x":-1.18,"y":0.224},{"r":2,"p":"O1","z":"Z=0.014","t":"a","k":6,"x":-0.88,"y":-0.19},{"r":2,"p":"O1","z":"Z=0.014","t":"a","k":7,"x":-0.83,"y":-0.31}
    ],
    "bpt": [
      {"p":"N2","ln":"K03","k":0,"x":-3.45,"y":1.126},{"p":"N2","ln":"K03","k":1,"x":-3.0,"y":1.100},{"p":"N2","ln":"K03","k":2,"x":-2.5,"y":1.061},{"p":"N2","ln":"K03","k":3,"x":-2.0,"y":1.002},{"p":"N2","ln":"K03","k":4,"x":-1.5,"y":0.906},{"p":"N2","ln":"K03","k":5,"x":-1.2,"y":0.812},{"p":"N2","ln":"K03","k":6,"x":-1.0,"y":0.719},{"p":"N2","ln":"K03","k":7,"x":-0.9,"y":0.658},{"p":"N2","ln":"K03","k":8,"x":-0.8,"y":0.582},{"p":"N2","ln":"K03","k":9,"x":-0.7,"y":0.487},{"p":"N2","ln":"K03","k":10,"x":-0.6,"y":0.362},{"p":"N2","ln":"K03","k":11,"x":-0.5,"y":0.191},{"p":"N2","ln":"K03","k":12,"x":-0.45,"y":0.08},{"p":"N2","ln":"K03","k":13,"x":-0.4,"y":-0.056},{"p":"N2","ln":"K03","k":14,"x":-0.35,"y":-0.225},{"p":"N2","ln":"K03","k":15,"x":-0.3,"y":-0.443},{"p":"N2","ln":"K03","k":16,"x":-0.275,"y":-0.577},{"p":"N2","ln":"K03","k":17,"x":-0.25,"y":-0.733},{"p":"N2","ln":"K03","k":18,"x":-0.225,"y":-0.918},{"p":"N2","ln":"K03","k":19,"x":-0.2,"y":-1.14},{"p":"N2","ln":"K03","k":20,"x":-0.185,"y":-1.296},{"p":"N2","ln":"K03","k":21,"x":-0.17,"y":-1.473},{"p":"N2","ln":"K03","k":22,"x":-0.16,"y":-1.605},
      {"p":"N2","ln":"K01","k":0,"x":-3.45,"y":1.034},{"p":"N2","ln":"K01","k":1,"x":-3.0,"y":1.014},{"p":"N2","ln":"K01","k":2,"x":-2.5,"y":0.985},{"p":"N2","ln":"K01","k":3,"x":-2.0,"y":0.943},{"p":"N2","ln":"K01","k":4,"x":-1.5,"y":0.880},{"p":"N2","ln":"K01","k":5,"x":-1.0,"y":0.775},{"p":"N2","ln":"K01","k":6,"x":-0.7,"y":0.669},{"p":"N2","ln":"K01","k":7,"x":-0.5,"y":0.561},{"p":"N2","ln":"K01","k":8,"x":-0.3,"y":0.398},{"p":"N2","ln":"K01","k":9,"x":-0.2,"y":0.280},{"p":"N2","ln":"K01","k":10,"x":-0.1,"y":0.120},{"p":"N2","ln":"K01","k":11,"x":-0.05,"y":0.017},{"p":"N2","ln":"K01","k":12,"x":0.0,"y":-0.108},{"p":"N2","ln":"K01","k":13,"x":0.05,"y":-0.262},{"p":"N2","ln":"K01","k":14,"x":0.1,"y":-0.459},{"p":"N2","ln":"K01","k":15,"x":0.125,"y":-0.578},{"p":"N2","ln":"K01","k":16,"x":0.15,"y":-0.716},{"p":"N2","ln":"K01","k":17,"x":0.175,"y":-0.878},{"p":"N2","ln":"K01","k":18,"x":0.2,"y":-1.069},{"p":"N2","ln":"K01","k":19,"x":0.225,"y":-1.30},{"p":"N2","ln":"K01","k":20,"x":0.25,"y":-1.583},
      {"p":"S2","ln":"K01","k":0,"x":-1.66,"y":0.936},{"p":"S2","ln":"K01","k":1,"x":-1.4,"y":0.881},{"p":"S2","ln":"K01","k":2,"x":-1.2,"y":0.826},{"p":"S2","ln":"K01","k":3,"x":-1.0,"y":0.755},{"p":"S2","ln":"K01","k":4,"x":-0.8,"y":0.657},{"p":"S2","ln":"K01","k":5,"x":-0.6,"y":0.517},{"p":"S2","ln":"K01","k":6,"x":-0.5,"y":0.422},{"p":"S2","ln":"K01","k":7,"x":-0.4,"y":0.300},{"p":"S2","ln":"K01","k":8,"x":-0.3,"y":0.139},{"p":"S2","ln":"K01","k":9,"x":-0.25,"y":0.037},{"p":"S2","ln":"K01","k":10,"x":-0.2,"y":-0.085},{"p":"S2","ln":"K01","k":11,"x":-0.15,"y":-0.232},{"p":"S2","ln":"K01","k":12,"x":-0.1,"y":-0.414},{"p":"S2","ln":"K01","k":13,"x":-0.05,"y":-0.646},{"p":"S2","ln":"K01","k":14,"x":0.0,"y":-0.95},{"p":"S2","ln":"K01","k":15,"x":0.03,"y":-1.183},{"p":"S2","ln":"K01","k":16,"x":0.06,"y":-1.469},{"p":"S2","ln":"K01","k":17,"x":0.07,"y":-1.58},
      {"p":"O1","ln":"K01","k":0,"x":-3.45,"y":1.075},{"p":"O1","ln":"K01","k":1,"x":-3.0,"y":1.027},{"p":"O1","ln":"K01","k":2,"x":-2.6,"y":0.967},{"p":"O1","ln":"K01","k":3,"x":-2.2,"y":0.877},{"p":"O1","ln":"K01","k":4,"x":-1.9,"y":0.773},{"p":"O1","ln":"K01","k":5,"x":-1.7,"y":0.672},{"p":"O1","ln":"K01","k":6,"x":-1.5,"y":0.528},{"p":"O1","ln":"K01","k":7,"x":-1.3,"y":0.302},{"p":"O1","ln":"K01","k":8,"x":-1.2,"y":0.133},{"p":"O1","ln":"K01","k":9,"x":-1.1,"y":-0.101},{"p":"O1","ln":"K01","k":10,"x":-1.05,"y":-0.257},{"p":"O1","ln":"K01","k":11,"x":-1.0,"y":-0.450},{"p":"O1","ln":"K01","k":12,"x":-0.95,"y":-0.698},{"p":"O1","ln":"K01","k":13,"x":-0.9,"y":-1.025},{"p":"O1","ln":"K01","k":14,"x":-0.87,"y":-1.277},{"p":"O1","ln":"K01","k":15,"x":-0.85,"y":-1.478},{"p":"O1","ln":"K01","k":16,"x":-0.84,"y":-1.59}
    ],
    "obs": [
      {"p":"N2","x":-2.55,"y":0.52},{"p":"S2","x":-1.89,"y":0.52},{"p":"O1","x":-2.62,"y":0.52}
    ]
  },
  "columns": 1,
  "align": "none",
  "spacing": 24,
  "resolve": {"scale": {"color": "independent"}, "legend": {"color": "independent"}},
  "concat": [
    {
      "bounds": "flush",
      "spacing": 63,
      "resolve": {"scale": {"color": "independent"}, "legend": {"color": "independent"}},
      "hconcat": [
        {
          "width": 284, "height": 286,
          "layer": [
            {"data": {"name": "grid"}, "transform": [{"filter": "datum.p === 'N2'"}],
             "mark": {"type": "line", "strokeDash": [6, 4], "strokeWidth": 2, "clip": true},
             "encoding": {
               "x": {"field": "x", "type": "quantitative", "scale": {"domain": [-3.4, 0.25], "nice": false, "zero": false}, "axis": {"title": "log ( [NII]λ6584 / Hα )"}},
               "y": {"field": "y", "type": "quantitative", "scale": {"domain": [-1.5, 1.5], "nice": false, "zero": false}, "axis": {"title": "log ( [OIII]λ5007 / Hβ )"}},
               "color": {"field": "z", "type": "nominal", "scale": {"domain": ["Z=0.0005", "Z=0.001", "Z=0.014"], "range": ["#0000ff", "#00bfbf", "#bfbf00"]}, "legend": null},
               "detail": [{"field": "z", "type": "nominal"}, {"field": "j", "type": "nominal"}],
               "order": {"field": "i", "type": "quantitative"}}},
            {"data": {"name": "grid"}, "transform": [{"filter": "datum.p === 'N2'"}],
             "mark": {"type": "line", "strokeWidth": 2, "clip": true},
             "encoding": {"x": {"field": "x", "type": "quantitative"}, "y": {"field": "y", "type": "quantitative"},
               "color": {"field": "z", "type": "nominal", "legend": null},
               "detail": [{"field": "z", "type": "nominal"}, {"field": "i", "type": "nominal"}],
               "order": {"field": "j", "type": "quantitative"}}},
            {"data": {"name": "curve"}, "transform": [{"filter": "datum.p === 'N2'"}],
             "mark": {"type": "line", "strokeWidth": 2.2, "clip": true},
             "encoding": {"x": {"field": "x", "type": "quantitative"}, "y": {"field": "y", "type": "quantitative"},
               "color": {"field": "z", "type": "nominal", "legend": null},
               "detail": {"field": "c", "type": "nominal"},
               "order": {"field": "k", "type": "quantitative"}}},
            {"data": {"name": "track"}, "transform": [{"filter": "datum.r === 1 && datum.p === 'N2'"}],
             "mark": {"type": "line", "strokeDash": [1, 4.5], "strokeCap": "round", "strokeWidth": 3.2, "clip": true},
             "encoding": {"x": {"field": "x", "type": "quantitative"}, "y": {"field": "y", "type": "quantitative"},
               "color": {"field": "z", "type": "nominal", "legend": null},
               "detail": [{"field": "z", "type": "nominal"}, {"field": "t", "type": "nominal"}],
               "order": {"field": "k", "type": "quantitative"}}},
            {"data": {"name": "track"}, "transform": [{"filter": "datum.r === 1 && datum.p === 'N2'"}],
             "mark": {"type": "point", "filled": false, "size": 300, "strokeWidth": 2.2, "opacity": 1, "clip": true},
             "encoding": {"x": {"field": "x", "type": "quantitative"}, "y": {"field": "y", "type": "quantitative"},
               "color": {"field": "z", "type": "nominal", "legend": null}}},
            {"data": {"name": "bpt"}, "transform": [{"filter": "datum.p === 'N2' && datum.ln === 'K03'"}],
             "mark": {"type": "line", "color": "black", "strokeWidth": 2.5, "strokeDash": [20, 5, 3, 5], "clip": true},
             "encoding": {"x": {"field": "x", "type": "quantitative"}, "y": {"field": "y", "type": "quantitative"}, "order": {"field": "k", "type": "quantitative"}}},
            {"data": {"name": "bpt"}, "transform": [{"filter": "datum.p === 'N2' && datum.ln === 'K01'"}],
             "mark": {"type": "line", "color": "black", "strokeWidth": 2.5, "strokeDash": [40, 28], "clip": true},
             "encoding": {"x": {"field": "x", "type": "quantitative"}, "y": {"field": "y", "type": "quantitative"}, "order": {"field": "k", "type": "quantitative"}}},
            {"data": {"name": "obs"}, "transform": [{"filter": "datum.p === 'N2'"}],
             "mark": {"type": "point", "shape": "circle", "filled": true, "fill": "#ff0000", "stroke": "black", "strokeWidth": 2.5, "size": 230, "opacity": 1},
             "encoding": {"x": {"field": "x", "type": "quantitative"}, "y": {"field": "y", "type": "quantitative"}}},
            {"data": {"name": "note"}, "transform": [{"filter": "datum.r === 1"}],
             "mark": {"type": "text", "align": "left", "baseline": "alphabetic", "font": "Liberation Serif", "fontSize": 20, "color": "black"},
             "encoding": {"x": {"datum": -3.08, "type": "quantitative"}, "y": {"datum": 1.25, "type": "quantitative"}, "text": {"value": "M"}}},
            {"data": {"name": "note"}, "transform": [{"filter": "datum.r === 1"}],
             "mark": {"type": "text", "align": "left", "baseline": "alphabetic", "font": "Liberation Serif", "fontSize": 14, "color": "black", "dx": 18, "dy": 4},
             "encoding": {"x": {"datum": -3.08, "type": "quantitative"}, "y": {"datum": 1.25, "type": "quantitative"}, "text": {"value": "up"}}},
            {"data": {"name": "note"}, "transform": [{"filter": "datum.r === 1"}],
             "mark": {"type": "text", "align": "left", "baseline": "alphabetic", "font": "Liberation Serif", "fontSize": 20, "color": "black", "dx": 37},
             "encoding": {"x": {"datum": -3.08, "type": "quantitative"}, "y": {"datum": 1.25, "type": "quantitative"}, "text": {"field": "s"}}},
            {"data": {"name": "note"}, "transform": [{"filter": "datum.r === 1"}],
             "mark": {"type": "text", "align": "left", "baseline": "alphabetic", "font": "DejaVu Sans", "fontSize": 11, "color": "black", "dx": 107, "dy": 4},
             "encoding": {"x": {"datum": -3.08, "type": "quantitative"}, "y": {"datum": 1.25, "type": "quantitative"}, "text": {"value": "⊙"}}}
          ]
        },
        {
          "width": 283, "height": 286,
          "layer": [
            {"data": {"name": "grid"}, "transform": [{"filter": "datum.p === 'S2'"}],
             "mark": {"type": "line", "strokeWidth": 2, "clip": true},
             "encoding": {
               "x": {"field": "x", "type": "quantitative", "scale": {"domain": [-3.4, 0.3], "nice": false, "zero": false}, "axis": {"title": "log ( [SII]λλ6717, 6731 / Hα )"}},
               "y": {"field": "y", "type": "quantitative", "scale": {"domain": [-1.5, 1.5], "nice": false, "zero": false}, "axis": {"title": "log ( [OIII]λ5007 / Hβ )"}},
               "color": {"field": "z", "type": "nominal", "scale": {"domain": ["Z=0.0005", "Z=0.001", "Z=0.014"], "range": ["#0000ff", "#00bfbf", "#bfbf00"]}},
               "detail": [{"field": "z", "type": "nominal"}, {"field": "i", "type": "nominal"}],
               "order": {"field": "j", "type": "quantitative"}}},
            {"data": {"name": "grid"}, "transform": [{"filter": "datum.p === 'S2'"}],
             "mark": {"type": "line", "strokeDash": [6, 4], "strokeWidth": 2, "clip": true},
             "encoding": {"x": {"field": "x", "type": "quantitative"}, "y": {"field": "y", "type": "quantitative"},
               "color": {"field": "z", "type": "nominal"},
               "detail": [{"field": "z", "type": "nominal"}, {"field": "j", "type": "nominal"}],
               "order": {"field": "i", "type": "quantitative"}}},
            {"data": {"name": "track"}, "transform": [{"filter": "datum.r === 1 && datum.p === 'S2'"}],
             "mark": {"type": "line", "strokeDash": [1, 4.5], "strokeCap": "round", "strokeWidth": 3.2, "clip": true},
             "encoding": {"x": {"field": "x", "type": "quantitative"}, "y": {"field": "y", "type": "quantitative"},
               "color": {"field": "z", "type": "nominal"},
               "detail": [{"field": "z", "type": "nominal"}, {"field": "t", "type": "nominal"}],
               "order": {"field": "k", "type": "quantitative"}}},
            {"data": {"name": "track"}, "transform": [{"filter": "datum.r === 1 && datum.p === 'S2'"}],
             "mark": {"type": "point", "filled": false, "size": 300, "strokeWidth": 2.2, "opacity": 1, "clip": true},
             "encoding": {"x": {"field": "x", "type": "quantitative"}, "y": {"field": "y", "type": "quantitative"},
               "color": {"field": "z", "type": "nominal"}}},
            {"data": {"name": "bpt"}, "transform": [{"filter": "datum.p === 'S2'"}],
             "mark": {"type": "line", "color": "black", "strokeWidth": 2.5, "strokeDash": [40, 30], "clip": true},
             "encoding": {"x": {"field": "x", "type": "quantitative"}, "y": {"field": "y", "type": "quantitative"}, "order": {"field": "k", "type": "quantitative"}}},
            {"data": {"name": "obs"}, "transform": [{"filter": "datum.p === 'S2'"}],
             "mark": {"type": "point", "shape": "circle", "filled": true, "fill": "#ff0000", "stroke": "black", "strokeWidth": 2.5, "size": 230, "opacity": 1},
             "encoding": {"x": {"field": "x", "type": "quantitative"}, "y": {"field": "y", "type": "quantitative"}}}
          ]
        },
        {
          "width": 280, "height": 286,
          "layer": [
            {"data": {"name": "grid"}, "transform": [{"filter": "datum.p === 'O1'"}],
             "mark": {"type": "line", "strokeDash": [6, 4], "strokeWidth": 2, "clip": true},
             "encoding": {
               "x": {"field": "x", "type": "quantitative", "scale": {"domain": [-3.4, 0.2], "nice": false, "zero": false}, "axis": {"title": "log ( [OI]λ6300 / Hα )"}},
               "y": {"field": "y", "type": "quantitative", "scale": {"domain": [-1.5, 1.5], "nice": false, "zero": false}, "axis": {"title": "log ( [OIII]λ5007 / Hβ )"}},
               "color": {"field": "z", "type": "nominal", "scale": {"domain": ["Z=0.0005", "Z=0.001", "Z=0.014"], "range": ["#0000ff", "#00bfbf", "#bfbf00"]}, "legend": null},
               "detail": [{"field": "z", "type": "nominal"}, {"field": "j", "type": "nominal"}],
               "order": {"field": "i", "type": "quantitative"}}},
            {"data": {"name": "grid"}, "transform": [{"filter": "datum.p === 'O1'"}],
             "mark": {"type": "line", "strokeWidth": 2, "clip": true},
             "encoding": {"x": {"field": "x", "type": "quantitative"}, "y": {"field": "y", "type": "quantitative"},
               "color": {"field": "z", "type": "nominal", "legend": null},
               "detail": [{"field": "z", "type": "nominal"}, {"field": "i", "type": "nominal"}],
               "order": {"field": "j", "type": "quantitative"}}},
            {"data": {"name": "track"}, "transform": [{"filter": "datum.r === 1 && datum.p === 'O1'"}],
             "mark": {"type": "line", "strokeDash": [1, 4.5], "strokeCap": "round", "strokeWidth": 3.2, "clip": true},
             "encoding": {"x": {"field": "x", "type": "quantitative"}, "y": {"field": "y", "type": "quantitative"},
               "color": {"field": "z", "type": "nominal", "legend": null},
               "detail": [{"field": "z", "type": "nominal"}, {"field": "t", "type": "nominal"}],
               "order": {"field": "k", "type": "quantitative"}}},
            {"data": {"name": "track"}, "transform": [{"filter": "datum.r === 1 && datum.p === 'O1'"}],
             "mark": {"type": "point", "filled": false, "size": 300, "strokeWidth": 2.2, "opacity": 1, "clip": true},
             "encoding": {"x": {"field": "x", "type": "quantitative"}, "y": {"field": "y", "type": "quantitative"},
               "color": {"field": "z", "type": "nominal", "legend": null}}},
            {"data": {"name": "bpt"}, "transform": [{"filter": "datum.p === 'O1'"}],
             "mark": {"type": "line", "color": "black", "strokeWidth": 2.5, "strokeDash": [40, 30], "clip": true},
             "encoding": {"x": {"field": "x", "type": "quantitative"}, "y": {"field": "y", "type": "quantitative"}, "order": {"field": "k", "type": "quantitative"}}},
            {"data": {"name": "obs"}, "transform": [{"filter": "datum.p === 'O1'"}],
             "mark": {"type": "point", "shape": "circle", "filled": true, "fill": "#ff0000", "stroke": "black", "strokeWidth": 2.5, "size": 230, "opacity": 1},
             "encoding": {"x": {"field": "x", "type": "quantitative"}, "y": {"field": "y", "type": "quantitative"}}}
          ]
        }
      ]
    },
    {
      "bounds": "flush",
      "spacing": 61,
      "resolve": {"scale": {"color": "independent"}, "legend": {"color": "independent"}},
      "hconcat": [
        {
          "width": 285, "height": 288,
          "layer": [
            {"data": {"name": "grid"}, "transform": [{"filter": "datum.p === 'N2'"}],
             "mark": {"type": "line", "strokeDash": [6, 4], "strokeWidth": 2, "clip": true},
             "encoding": {
               "x": {"field": "x", "type": "quantitative", "scale": {"domain": [-3.4, 0.25], "nice": false, "zero": false}, "axis": {"title": "log ( [NII]λ6584 / Hα )"}},
               "y": {"field": "y", "type": "quantitative", "scale": {"domain": [-1.5, 1.5], "nice": false, "zero": false}, "axis": {"title": "log ( [OIII]λ5007 / Hβ )", "titlePadding": 11}},
               "color": {"field": "z", "type": "nominal", "scale": {"domain": ["Z=0.0005", "Z=0.001", "Z=0.014"], "range": ["#0000ff", "#00bfbf", "#bfbf00"]}, "legend": null},
               "detail": [{"field": "z", "type": "nominal"}, {"field": "j", "type": "nominal"}],
               "order": {"field": "i", "type": "quantitative"}}},
            {"data": {"name": "grid"}, "transform": [{"filter": "datum.p === 'N2'"}],
             "mark": {"type": "line", "strokeWidth": 2, "clip": true},
             "encoding": {"x": {"field": "x", "type": "quantitative"}, "y": {"field": "y", "type": "quantitative"},
               "color": {"field": "z", "type": "nominal", "legend": null},
               "detail": [{"field": "z", "type": "nominal"}, {"field": "i", "type": "nominal"}],
               "order": {"field": "j", "type": "quantitative"}}},
            {"data": {"name": "curve"}, "transform": [{"filter": "datum.p === 'N2'"}],
             "mark": {"type": "line", "strokeWidth": 2.2, "clip": true},
             "encoding": {"x": {"field": "x", "type": "quantitative"}, "y": {"field": "y", "type": "quantitative"},
               "color": {"field": "z", "type": "nominal", "legend": null},
               "detail": {"field": "c", "type": "nominal"},
               "order": {"field": "k", "type": "quantitative"}}},
            {"data": {"name": "track"}, "transform": [{"filter": "datum.r === 2 && datum.p === 'N2'"}],
             "mark": {"type": "line", "strokeDash": [1, 4.5], "strokeCap": "round", "strokeWidth": 3.2, "clip": true},
             "encoding": {"x": {"field": "x", "type": "quantitative"}, "y": {"field": "y", "type": "quantitative"},
               "color": {"field": "z", "type": "nominal", "legend": null},
               "detail": [{"field": "z", "type": "nominal"}, {"field": "t", "type": "nominal"}],
               "order": {"field": "k", "type": "quantitative"}}},
            {"data": {"name": "track"}, "transform": [{"filter": "datum.r === 2 && datum.p === 'N2'"}],
             "mark": {"type": "point", "filled": false, "size": 300, "strokeWidth": 2.2, "opacity": 1, "clip": true},
             "encoding": {"x": {"field": "x", "type": "quantitative"}, "y": {"field": "y", "type": "quantitative"},
               "color": {"field": "z", "type": "nominal", "legend": null}}},
            {"data": {"name": "bpt"}, "transform": [{"filter": "datum.p === 'N2' && datum.ln === 'K03'"}],
             "mark": {"type": "line", "color": "black", "strokeWidth": 2.5, "strokeDash": [20, 5, 3, 5], "clip": true},
             "encoding": {"x": {"field": "x", "type": "quantitative"}, "y": {"field": "y", "type": "quantitative"}, "order": {"field": "k", "type": "quantitative"}}},
            {"data": {"name": "bpt"}, "transform": [{"filter": "datum.p === 'N2' && datum.ln === 'K01'"}],
             "mark": {"type": "line", "color": "black", "strokeWidth": 2.5, "strokeDash": [40, 28], "clip": true},
             "encoding": {"x": {"field": "x", "type": "quantitative"}, "y": {"field": "y", "type": "quantitative"}, "order": {"field": "k", "type": "quantitative"}}},
            {"data": {"name": "obs"}, "transform": [{"filter": "datum.p === 'N2'"}],
             "mark": {"type": "point", "shape": "circle", "filled": true, "fill": "#ff0000", "stroke": "black", "strokeWidth": 2.5, "size": 230, "opacity": 1},
             "encoding": {"x": {"field": "x", "type": "quantitative"}, "y": {"field": "y", "type": "quantitative"}}},
            {"data": {"name": "note"}, "transform": [{"filter": "datum.r === 2"}],
             "mark": {"type": "text", "align": "left", "baseline": "alphabetic", "font": "Liberation Serif", "fontSize": 20, "color": "black"},
             "encoding": {"x": {"datum": -3.08, "type": "quantitative"}, "y": {"datum": 1.25, "type": "quantitative"}, "text": {"value": "M"}}},
            {"data": {"name": "note"}, "transform": [{"filter": "datum.r === 2"}],
             "mark": {"type": "text", "align": "left", "baseline": "alphabetic", "font": "Liberation Serif", "fontSize": 14, "color": "black", "dx": 18, "dy": 4},
             "encoding": {"x": {"datum": -3.08, "type": "quantitative"}, "y": {"datum": 1.25, "type": "quantitative"}, "text": {"value": "up"}}},
            {"data": {"name": "note"}, "transform": [{"filter": "datum.r === 2"}],
             "mark": {"type": "text", "align": "left", "baseline": "alphabetic", "font": "Liberation Serif", "fontSize": 20, "color": "black", "dx": 37},
             "encoding": {"x": {"datum": -3.08, "type": "quantitative"}, "y": {"datum": 1.25, "type": "quantitative"}, "text": {"field": "s"}}},
            {"data": {"name": "note"}, "transform": [{"filter": "datum.r === 2"}],
             "mark": {"type": "text", "align": "left", "baseline": "alphabetic", "font": "DejaVu Sans", "fontSize": 11, "color": "black", "dx": 107, "dy": 4},
             "encoding": {"x": {"datum": -3.08, "type": "quantitative"}, "y": {"datum": 1.25, "type": "quantitative"}, "text": {"value": "⊙"}}}
          ]
        },
        {
          "width": 286, "height": 288,
          "layer": [
            {"data": {"name": "grid"}, "transform": [{"filter": "datum.p === 'S2'"}],
             "mark": {"type": "line", "strokeWidth": 2, "clip": true},
             "encoding": {
               "x": {"field": "x", "type": "quantitative", "scale": {"domain": [-3.4, 0.3], "nice": false, "zero": false}, "axis": {"title": "log ( [SII]λλ6717, 6731 / Hα )"}},
               "y": {"field": "y", "type": "quantitative", "scale": {"domain": [-1.5, 1.5], "nice": false, "zero": false}, "axis": {"title": "log ( [OIII]λ5007 / Hβ )", "titlePadding": 11}},
               "color": {"field": "z", "type": "nominal", "scale": {"domain": ["Z=0.0005", "Z=0.001", "Z=0.014"], "range": ["#0000ff", "#00bfbf", "#bfbf00"]}},
               "detail": [{"field": "z", "type": "nominal"}, {"field": "i", "type": "nominal"}],
               "order": {"field": "j", "type": "quantitative"}}},
            {"data": {"name": "grid"}, "transform": [{"filter": "datum.p === 'S2'"}],
             "mark": {"type": "line", "strokeDash": [6, 4], "strokeWidth": 2, "clip": true},
             "encoding": {"x": {"field": "x", "type": "quantitative"}, "y": {"field": "y", "type": "quantitative"},
               "color": {"field": "z", "type": "nominal"},
               "detail": [{"field": "z", "type": "nominal"}, {"field": "j", "type": "nominal"}],
               "order": {"field": "i", "type": "quantitative"}}},
            {"data": {"name": "track"}, "transform": [{"filter": "datum.r === 2 && datum.p === 'S2'"}],
             "mark": {"type": "line", "strokeDash": [1, 4.5], "strokeCap": "round", "strokeWidth": 3.2, "clip": true},
             "encoding": {"x": {"field": "x", "type": "quantitative"}, "y": {"field": "y", "type": "quantitative"},
               "color": {"field": "z", "type": "nominal"},
               "detail": [{"field": "z", "type": "nominal"}, {"field": "t", "type": "nominal"}],
               "order": {"field": "k", "type": "quantitative"}}},
            {"data": {"name": "track"}, "transform": [{"filter": "datum.r === 2 && datum.p === 'S2'"}],
             "mark": {"type": "point", "filled": false, "size": 300, "strokeWidth": 2.2, "opacity": 1, "clip": true},
             "encoding": {"x": {"field": "x", "type": "quantitative"}, "y": {"field": "y", "type": "quantitative"},
               "color": {"field": "z", "type": "nominal"}}},
            {"data": {"name": "bpt"}, "transform": [{"filter": "datum.p === 'S2'"}],
             "mark": {"type": "line", "color": "black", "strokeWidth": 2.5, "strokeDash": [40, 30], "clip": true},
             "encoding": {"x": {"field": "x", "type": "quantitative"}, "y": {"field": "y", "type": "quantitative"}, "order": {"field": "k", "type": "quantitative"}}},
            {"data": {"name": "obs"}, "transform": [{"filter": "datum.p === 'S2'"}],
             "mark": {"type": "point", "shape": "circle", "filled": true, "fill": "#ff0000", "stroke": "black", "strokeWidth": 2.5, "size": 230, "opacity": 1},
             "encoding": {"x": {"field": "x", "type": "quantitative"}, "y": {"field": "y", "type": "quantitative"}}}
          ]
        },
        {
          "width": 284, "height": 288,
          "layer": [
            {"data": {"name": "grid"}, "transform": [{"filter": "datum.p === 'O1'"}],
             "mark": {"type": "line", "strokeDash": [6, 4], "strokeWidth": 2, "clip": true},
             "encoding": {
               "x": {"field": "x", "type": "quantitative", "scale": {"domain": [-3.4, 0.25], "nice": false, "zero": false}, "axis": {"title": "log ( [OI]λ6300 / Hα )"}},
               "y": {"field": "y", "type": "quantitative", "scale": {"domain": [-1.5, 1.5], "nice": false, "zero": false}, "axis": {"title": "log ( [OIII]λ5007 / Hβ )", "titlePadding": 11}},
               "color": {"field": "z", "type": "nominal", "scale": {"domain": ["Z=0.0005", "Z=0.001", "Z=0.014"], "range": ["#0000ff", "#00bfbf", "#bfbf00"]}, "legend": null},
               "detail": [{"field": "z", "type": "nominal"}, {"field": "j", "type": "nominal"}],
               "order": {"field": "i", "type": "quantitative"}}},
            {"data": {"name": "grid"}, "transform": [{"filter": "datum.p === 'O1'"}],
             "mark": {"type": "line", "strokeWidth": 2, "clip": true},
             "encoding": {"x": {"field": "x", "type": "quantitative"}, "y": {"field": "y", "type": "quantitative"},
               "color": {"field": "z", "type": "nominal", "legend": null},
               "detail": [{"field": "z", "type": "nominal"}, {"field": "i", "type": "nominal"}],
               "order": {"field": "j", "type": "quantitative"}}},
            {"data": {"name": "gray"},
             "mark": {"type": "line", "color": "#888888", "strokeWidth": 1.8, "clip": true},
             "encoding": {"x": {"field": "x", "type": "quantitative"}, "y": {"field": "y", "type": "quantitative"},
               "detail": {"field": "j", "type": "nominal"}, "order": {"field": "i", "type": "quantitative"}}},
            {"data": {"name": "gray"},
             "mark": {"type": "line", "color": "#888888", "strokeWidth": 1.8, "clip": true},
             "encoding": {"x": {"field": "x", "type": "quantitative"}, "y": {"field": "y", "type": "quantitative"},
               "detail": {"field": "i", "type": "nominal"}, "order": {"field": "j", "type": "quantitative"}}},
            {"data": {"name": "track"}, "transform": [{"filter": "datum.r === 2 && datum.p === 'O1'"}],
             "mark": {"type": "line", "strokeDash": [1, 4.5], "strokeCap": "round", "strokeWidth": 3.2, "clip": true},
             "encoding": {"x": {"field": "x", "type": "quantitative"}, "y": {"field": "y", "type": "quantitative"},
               "color": {"field": "z", "type": "nominal", "legend": null},
               "detail": [{"field": "z", "type": "nominal"}, {"field": "t", "type": "nominal"}],
               "order": {"field": "k", "type": "quantitative"}}},
            {"data": {"name": "track"}, "transform": [{"filter": "datum.r === 2 && datum.p === 'O1'"}],
             "mark": {"type": "point", "filled": false, "size": 300, "strokeWidth": 2.2, "opacity": 1, "clip": true},
             "encoding": {"x": {"field": "x", "type": "quantitative"}, "y": {"field": "y", "type": "quantitative"},
               "color": {"field": "z", "type": "nominal", "legend": null}}},
            {"data": {"name": "bpt"}, "transform": [{"filter": "datum.p === 'O1'"}],
             "mark": {"type": "line", "color": "black", "strokeWidth": 2.5, "strokeDash": [40, 30], "clip": true},
             "encoding": {"x": {"field": "x", "type": "quantitative"}, "y": {"field": "y", "type": "quantitative"}, "order": {"field": "k", "type": "quantitative"}}},
            {"data": {"name": "obs"}, "transform": [{"filter": "datum.p === 'O1'"}],
             "mark": {"type": "point", "shape": "circle", "filled": true, "fill": "#ff0000", "stroke": "black", "strokeWidth": 2.5, "size": 230, "opacity": 1},
             "encoding": {"x": {"field": "x", "type": "quantitative"}, "y": {"field": "y", "type": "quantitative"}}}
          ]
        }
      ]
    }
  ]
}
